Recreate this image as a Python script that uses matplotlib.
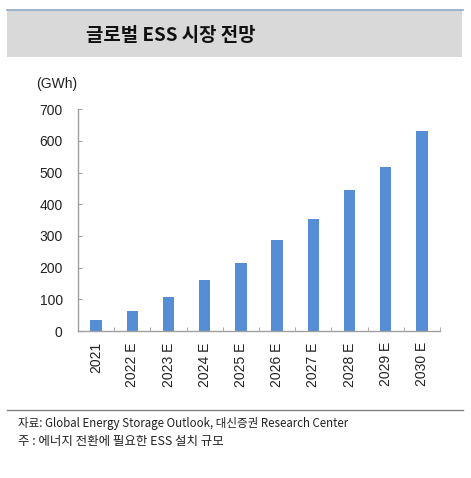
import matplotlib
matplotlib.use("Agg")
import matplotlib.pyplot as plt
import numpy as np

# chart data
years = ["2021", "2022 E", "2023 E", "2024 E", "2025 E",
         "2026 E", "2027 E", "2028 E", "2029 E", "2030 E"]
ess_gwh = [35, 62, 107, 160, 214, 286, 353, 446, 518, 630]
y_ticks = [0, 100, 200, 300, 400, 500, 600, 700]

title_text = "글로벌 ESS 시장 전망"
unit_text = "(GWh)"
source_text = "자료: Global Energy Storage Outlook, 대신증권 Research Center"
note_text = "주 : 에너지 전환에 필요한 ESS 설치 규모"

FONTS = ["Liberation Sans", "Noto Sans CJK KR"]
KR_FONTS = ["Noto Sans CJK KR", "Liberation Sans"]
plt.rcParams["font.family"] = FONTS

fig = plt.figure(figsize=(4.71, 4.78), dpi=100)
fig.patch.set_facecolor("white")

# header bar
fig.patches.append(plt.Rectangle((0.015, 0.881), 0.966, 0.098,
                                 transform=fig.transFigure,
                                 facecolor="#D9D9D9", edgecolor="none"))
fig.lines.append(plt.Line2D([0.015, 0.983], [0.980, 0.980],
                            transform=fig.transFigure, color="#8EA9C8", lw=1.2))
fig.text(0.183, 0.926, title_text, fontsize=13.6, fontweight="bold",
         family=KR_FONTS, va="center", ha="left", color="#111111")

# chart area
ax = fig.add_axes([0.1656, 0.3075, 0.7686, 0.4639])
x = np.arange(len(years))
ax.bar(x, ess_gwh, width=0.31, color="#558ED5")

ax.set_xlim(-0.5, len(years) - 0.5)
ax.set_ylim(0, 700)
ax.set_yticks(y_ticks)
ax.set_yticklabels([str(v) for v in y_ticks])
ax.set_xticks(x)
ax.set_xticklabels(years, rotation=90, va="top", ha="center")
ax.set_xticks(np.arange(len(years) + 1) - 0.5, minor=True)

for side in ["top", "right"]:
    ax.spines[side].set_visible(False)
for side in ["left", "bottom"]:
    ax.spines[side].set_color("#A0A0A0")
    ax.spines[side].set_linewidth(1.0)

ax.tick_params(axis="y", direction="in", length=3, color="#A0A0A0",
               labelsize=10, pad=11, labelcolor="#222222")
ax.tick_params(axis="x", which="major", length=0, labelsize=10, pad=8,
               labelcolor="#222222")
ax.tick_params(axis="x", which="minor", direction="in", length=3,
               color="#A0A0A0")

fig.text(0.0764, 0.824, unit_text, fontsize=10, va="center", ha="left",
         color="#222222")

# footer
fig.lines.append(plt.Line2D([0.015, 0.983], [0.1423, 0.1423],
                            transform=fig.transFigure, color="#808080", lw=1.0))
fig.text(0.038, 0.115, source_text, fontsize=8.3, family=KR_FONTS,
         va="center", ha="left", color="#222222")
fig.text(0.038, 0.077, note_text, fontsize=9, family=KR_FONTS,
         va="center", ha="left", color="#222222")

fig.savefig("out.png", dpi=100)
plt.close(fig)
